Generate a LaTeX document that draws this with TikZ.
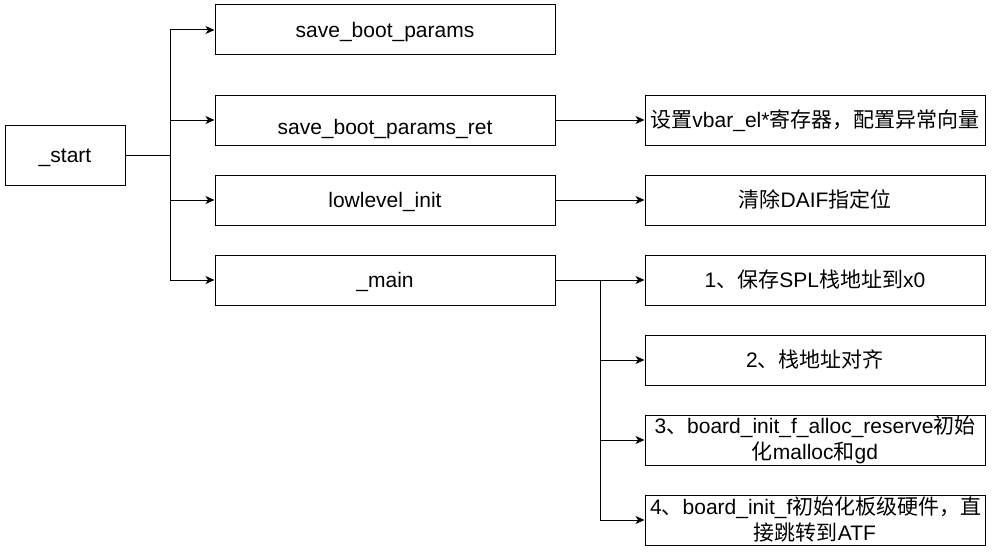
\documentclass[tikz,border=0pt]{standalone}
\usepackage{fontspec}
\setmainfont{Liberation Sans}
\newfontfamily\cjk{Noto Sans CJK SC}
\newcommand{\zh}[1]{{\cjk #1}}
\usetikzlibrary{arrows.meta}
\begin{document}
\begin{tikzpicture}[x=1pt,y=-1pt,
  box/.style={draw, line width=1pt, fill=white, minimum width=340pt, minimum height=50pt,
    inner sep=0pt, font=\fontsize{21}{26}\selectfont, align=center},
  one/.style={text height=19.5pt, text depth=4.5pt},
  conn/.style={line width=1pt, -{Stealth[length=9pt,width=8pt,inset=2.5pt]}}]
\useasboundingbox (0,0) rectangle (992,551);
\node[box, one, minimum width=120pt, minimum height=60pt] (start) at (65,155) {\_start};
\node[box, one] (sbp) at (385,30) {save\_boot\_params};
\node[box, text height=33.5pt, text depth=4.5pt] (sbpr) at (385,120) {save\_boot\_params\_ret};
\node[box, one] (lli) at (385,200) {lowlevel\_init};
\node[box, one] (main) at (385,280) {\_main};
\node[box, one] (r1) at (815,120) {\zh{设置}vbar\_el*\zh{寄存器，配置异常向量}};
\node[box, one] (r2) at (815,200) {\zh{清除}DAIF\zh{指定位}};
\node[box, one] (m1) at (815,280) {1\zh{、保存}SPL\zh{栈地址到}x0};
\node[box, one] (m2) at (815,360) {2\zh{、栈地址对齐}};
\node[box] (m3) at (815,440) {\raisebox{-1.5pt}{\parbox{330pt}{\centering 3\zh{、}board\_init\_f\_alloc\_reserve\zh{初始}\\\zh{化}malloc\zh{和}gd}}};
\node[box] (m4) at (815,520) {\raisebox{-1.5pt}{\parbox{330pt}{\centering 4\zh{、}board\_init\_f\zh{初始化板级硬件，直}\\\zh{接跳转到}ATF}}};
\draw[conn] (start.east) -- ++(45,0) |- (sbp.west);
\draw[conn] (start.east) -- ++(45,0) |- (sbpr.west);
\draw[conn] (start.east) -- ++(45,0) |- (lli.west);
\draw[conn] (start.east) -- ++(45,0) |- (main.west);
\draw[conn] (sbpr.east) -- (r1.west);
\draw[conn] (lli.east) -- (r2.west);
\draw[conn] (main.east) -- (m1.west);
\draw[conn] (main.east) -- ++(45,0) |- (m2.west);
\draw[conn] (main.east) -- ++(45,0) |- (m3.west);
\draw[conn] (main.east) -- ++(45,0) |- (m4.west);
\end{tikzpicture}
\end{document}
